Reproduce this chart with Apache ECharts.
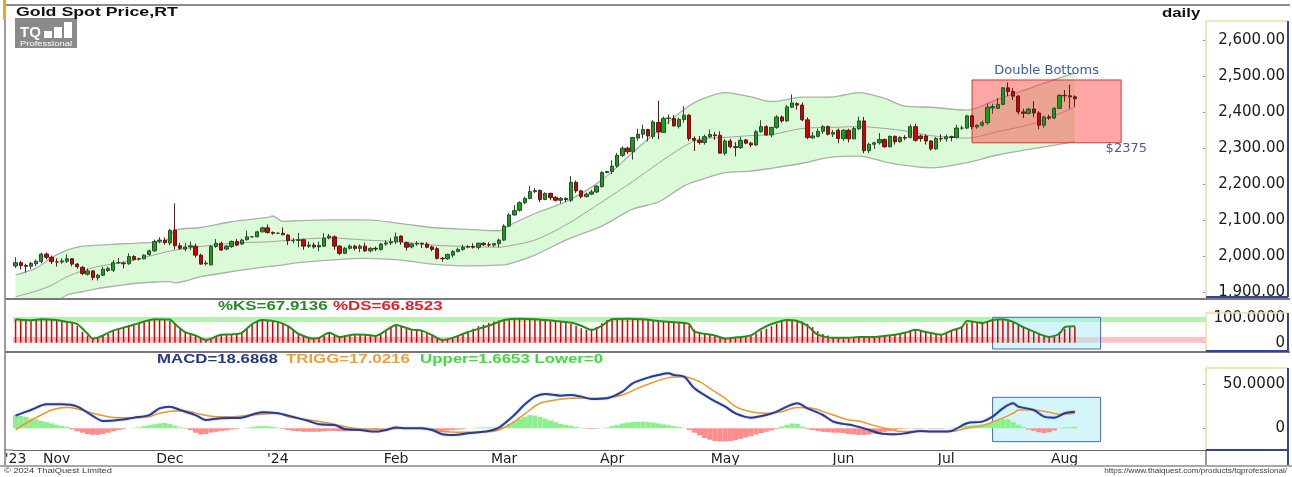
<!DOCTYPE html>
<html>
<head>
<meta charset="utf-8">
<title>Gold Spot Price,RT</title>
<script src="https://cdn.jsdelivr.net/npm/echarts@6.0.0/dist/echarts.min.js"></script>
<style>
  html, body { margin: 0; padding: 0; background: #fff; }
  #chart { width: 1292px; height: 477px; }
</style>
</head>
<body>
<div id="chart"></div>
<script>
// ---- data ----
var monthNames = ['Jan', 'Feb', 'Mar', 'Apr', 'May', 'Jun', 'Jul', 'Aug', 'Sep', 'Oct', 'Nov', 'Dec'];
var firstDay = '2023-10-20';
var slotCount = 232;            // trading-day slots across the panel (incl. empty space on the right)
var lastCandle = 206;
var priceTicks = [1900, 2000, 2100, 2200, 2300, 2400, 2500, 2600];
var stochTicks = [0, 100];
var macdTicks = [0, 50];
var lastPrice = 2437.64;
var lastKS = 67.9136, lastDS = 66.8523;
var lastMACD = 18.6868, lastTRIGG = 17.0216, histUpper = 1.6653, histLower = 0;
var patternBox = [186, 2490, 215, 2315];   // from day, top price, to day, bottom price
var patternTitle = 'Double Bottoms';
var patternNote = {at: 216, price: 2300, text: '$2375'};

// [open, close, low, high]
var candles = [
[1972,1981,1966,1996],[1981,1973,1962,1986],[1973,1971,1953,1978],[1971,1979,1963,1983],[1978,1985,1971,1990],
[1984,2005,1979,2009],[2005,1996,1990,2009],[1996,1984,1977,2001],[1983,1983,1970,1993],[1983,1986,1978,1993],
[1985,1992,1980,2004],[1992,1977,1971,1994],[1977,1970,1964,1980],[1968,1951,1946,1972],[1949,1958,1945,1965],
[1958,1940,1932,1960],[1939,1946,1931,1950],[1946,1963,1944,1970],[1959,1965,1955,1970],[1960,1981,1955,1988],
[1981,1981,1977,1994],[1980,1978,1965,1984],[1978,1998,1975,2007],[1998,1990,1987,2002],[1991,1992,1987,1995],
[1992,2002,1990,2004],[2004,2014,2000,2017],[2014,2040,2011,2045],[2041,2044,2035,2052],[2044,2037,2031,2051],
[2036,2071,2030,2075],[2072,2028,2018,2146],[2028,2021,2017,2036],[2019,2025,2013,2036],[2025,2028,2016,2040],
[2027,2002,1995,2034],[2002,1977,1975,2006],[1978,1980,1973,1987],[1975,2026,1973,2030],[2026,2035,2022,2047],
[2035,2016,2014,2040],[2019,2027,2016,2030],[2026,2040,2022,2043],[2040,2030,2027,2047],[2033,2044,2030,2048],
[2045,2053,2043,2070],[2053,2053,2051,2055],[2053,2067,2052,2070],[2067,2078,2065,2081],[2078,2065,2062,2088],
[2065,2063,2059,2068],[2063,2063,2061,2065],[2063,2059,2057,2079],[2058,2042,2030,2060],[2042,2043,2035,2050],
[2043,2045,2024,2064],[2045,2027,2017,2048],[2027,2030,2022,2040],[2030,2025,2020,2037],[2025,2029,2013,2040],
[2027,2049,2025,2063],[2050,2055,2046,2061],[2053,2027,2017,2057],[2027,2007,2002,2030],[2007,2021,2005,2025],
[2021,2027,2018,2032],[2027,2021,2015,2031],[2021,2027,2010,2032],[2027,2014,2011,2037],[2014,2021,2010,2024],
[2021,2019,2013,2026],[2018,2033,2015,2036],[2033,2036,2028,2043],[2036,2039,2030,2050],[2039,2053,2033,2065],
[2055,2039,2031,2057],[2037,2024,2015,2040],[2025,2033,2021,2036],[2033,2035,2028,2041],[2035,2033,2022,2037],
[2033,2024,2021,2038],[2025,2018,2013,2029],[2020,1993,1990,2025],[1993,1992,1984,1997],[1992,2004,1989,2006],
[2002,2012,1995,2016],[2012,2018,2010,2023],[2018,2024,2014,2031],[2024,2026,2021,2030],[2026,2024,2020,2035],
[2024,2035,2018,2037],[2035,2031,2028,2038],[2031,2030,2025,2038],[2030,2034,2025,2036],[2034,2044,2024,2048],
[2044,2083,2041,2088],[2083,2114,2080,2119],[2114,2126,2112,2141],[2127,2148,2123,2152],[2148,2160,2144,2165],
[2160,2179,2158,2195],[2179,2182,2175,2189],[2182,2157,2150,2185],[2157,2174,2155,2177],[2174,2162,2155,2176],
[2163,2155,2151,2167],[2155,2160,2146,2164],[2160,2157,2150,2163],[2155,2205,2150,2222],[2205,2181,2175,2210],
[2181,2165,2160,2184],[2165,2172,2163,2176],[2172,2178,2169,2184],[2178,2194,2175,2197],[2193,2232,2190,2236],
[2232,2235,2230,2237],[2235,2250,2228,2266],[2250,2280,2245,2287],[2280,2300,2275,2305],[2300,2290,2284,2304],
[2290,2330,2268,2331],[2328,2339,2320,2354],[2339,2352,2327,2365],[2352,2334,2319,2354],[2333,2373,2326,2378],
[2372,2345,2325,2432],[2344,2383,2342,2388],[2383,2384,2367,2394],[2383,2362,2360,2392],[2361,2380,2355,2385],
[2380,2392,2371,2417],[2392,2327,2320,2395],[2327,2322,2292,2333],[2322,2316,2310,2334],[2316,2332,2310,2338],
[2332,2338,2328,2352],[2337,2335,2323,2345],[2336,2286,2285,2347],[2286,2320,2280,2325],[2320,2304,2300,2326],
[2304,2302,2277,2317],[2302,2322,2298,2331],[2323,2314,2311,2326],[2314,2309,2303,2318],[2309,2346,2306,2351],
[2346,2360,2343,2378],[2360,2337,2334,2364],[2337,2358,2330,2359],[2358,2387,2354,2392],[2387,2376,2371,2391],
[2376,2415,2373,2420],[2414,2426,2412,2450],[2424,2420,2407,2428],[2420,2379,2375,2427],[2379,2330,2325,2386],
[2329,2334,2326,2345],[2333,2347,2330,2355],[2347,2360,2340,2364],[2360,2339,2335,2363],[2339,2344,2331,2351],
[2350,2327,2314,2355],[2327,2350,2320,2353],[2350,2326,2316,2354],[2326,2355,2325,2359],[2354,2376,2350,2388],
[2376,2293,2286,2387],[2293,2311,2287,2315],[2311,2315,2298,2318],[2315,2324,2310,2342],[2324,2304,2301,2327],
[2304,2333,2302,2335],[2333,2318,2310,2335],[2318,2330,2315,2333],[2330,2328,2322,2336],[2330,2360,2327,2366],
[2360,2322,2318,2368],[2334,2327,2318,2338],[2334,2320,2310,2338],[2320,2298,2293,2322],[2298,2327,2295,2331],
[2327,2326,2318,2339],[2326,2332,2318,2338],[2332,2330,2319,2335],[2330,2356,2327,2365],[2356,2356,2351,2363],
[2356,2390,2353,2393],[2390,2360,2353,2393],[2359,2364,2354,2366],[2364,2371,2360,2377],[2371,2414,2365,2425],
[2412,2416,2396,2424],[2411,2422,2409,2440],[2422,2468,2420,2470],[2468,2458,2445,2483],[2458,2445,2434,2468],
[2445,2401,2394,2448],[2401,2397,2384,2410],[2397,2409,2394,2412],[2409,2398,2386,2431],[2398,2364,2353,2403],
[2364,2387,2357,2390],[2387,2384,2379,2393],[2384,2411,2381,2415],[2411,2447,2409,2451],[2447,2446,2430,2462],
[2446,2443,2410,2477],[2443,2438,2415,2447]
];

// band lines, read at these day positions
var bandIdx   = [0, 4, 7, 10, 13, 16, 20, 23, 26, 29, 30, 31, 36, 42, 49, 50, 52, 55, 61, 68, 75, 81, 88, 94, 96, 101, 107, 114, 120, 125, 130, 133, 138, 143, 147, 153, 159, 164, 169, 173, 178, 185, 191, 198, 206];
var bandUpper = [1947, 1966, 1995, 2016, 2027, 2030, 2033, 2035, 2037, 2039, 2053, 2072, 2079, 2095, 2107, 2111, 2096, 2098, 2100, 2100, 2090, 2079, 2074, 2070, 2085, 2118, 2151, 2211, 2288, 2350, 2408, 2434, 2455, 2443, 2430, 2442, 2443, 2455, 2439, 2417, 2414, 2406, 2436, 2471, 2510];
var bandMid   = [1886, 1902, 1918, 1942, 1958, 1970, 1980, 1988, 1999, 2010, 2013, 2016, 2026, 2035, 2039, 2040, 2042, 2046, 2050, 2044, 2039, 2030, 2026, 2024, 2028, 2044, 2086, 2150, 2207, 2258, 2305, 2325, 2330, 2335, 2338, 2355, 2358, 2360, 2355, 2348, 2335, 2328, 2346, 2369, 2414];
var bandLower = [1830, 1845, 1862, 1891, 1900, 1909, 1917, 1923, 1926, 1928, 1928, 1925, 1942, 1956, 1970, 1971, 1975, 1981, 1988, 1993, 1988, 1977, 1972, 1974, 1978, 2002, 2044, 2083, 2130, 2150, 2195, 2211, 2232, 2236, 2244, 2258, 2276, 2278, 2262, 2252, 2245, 2260, 2281, 2299, 2318];

// %DS bars, one per day
var stochD = [
97, 96, 95, 93, 94, 96, 97, 96, 94, 90,
86, 80, 70, 45, 30, 18, 20, 28, 38, 50,
58, 66, 73, 78, 81, 86, 92, 97, 98, 97,
90, 78, 62, 45, 35, 30, 22, 12, 18, 26,
32, 34, 34, 38, 45, 60, 76, 88, 94, 93,
88, 85, 80, 68, 55, 40, 30, 20, 17, 20,
32, 40, 32, 25, 26, 32, 35, 34, 33, 30,
28, 40, 55, 68, 73, 68, 60, 54, 52, 51,
45, 32, 18, 11, 14, 20, 30, 40, 48, 58,
68, 74, 82, 88, 92, 94, 97, 99, 99, 99,
98, 97, 95, 93, 91, 89, 86, 84, 78, 70,
60, 53, 56, 65, 80, 94, 97, 99, 99, 99,
98, 98, 97, 96, 94, 91, 89, 87, 85, 83,
79, 72, 55, 45, 38, 33, 30, 22, 17, 19,
22, 24, 28, 30, 38, 50, 58, 68, 78, 86,
94, 95, 92, 88, 78, 64, 48, 36, 30, 24,
20, 18, 18, 19, 21, 22, 24, 24, 26, 28,
31, 34, 38, 42, 48, 52, 48, 44, 38, 34,
36, 45, 52, 60, 68, 80, 88, 84, 82, 86,
92, 95, 97, 95, 88, 76, 64, 55, 46, 38,
28, 24, 32, 45, 58, 64, 67
];
// %KS line, read at these day positions
var stochKIdx = [0, 3, 5, 8, 10, 12, 14, 15, 16, 19, 22, 24, 27, 30, 31, 33, 35, 37, 40, 42, 44, 46, 48, 51, 53, 55, 58, 59, 61, 63, 66, 68, 70, 72, 74, 75, 77, 79, 81, 83, 85, 88, 92, 95, 98, 101, 105, 108, 110, 112, 114, 116, 119, 122, 125, 129, 131, 132, 136, 138, 141, 143, 145, 147, 150, 152, 154, 156, 159, 162, 164, 167, 169, 171, 173, 175, 177, 180, 182, 184, 185, 187, 188, 190, 192, 194, 196, 198, 201, 203, 204, 206];
var stochK    = [97, 93, 97, 94, 86, 77, 37, 17, 21, 50, 68, 81, 97, 96, 77, 44, 30, 11, 33, 34, 41, 77, 94, 86, 68, 37, 17, 20, 41, 24, 34, 33, 28, 50, 73, 68, 54, 50, 31, 11, 20, 44, 70, 94, 99, 97, 90, 83, 70, 53, 70, 97, 99, 97, 90, 83, 77, 46, 30, 17, 24, 30, 57, 77, 94, 90, 70, 33, 20, 20, 24, 24, 28, 33, 41, 53, 44, 33, 50, 64, 90, 84, 81, 94, 97, 86, 64, 46, 24, 37, 64, 68];

// MACD / TRIGG lines, read at these day positions
var macdIdx  = [0, 3, 6, 9, 12, 15, 17, 20, 23, 26, 28, 30, 32, 35, 37, 40, 44, 48, 51, 53, 57, 59, 62, 64, 67, 70, 72, 74, 76, 79, 81, 83, 85, 88, 92, 94, 97, 99, 101, 103, 106, 108, 110, 112, 115, 118, 120, 123, 125, 127, 128, 130, 132, 135, 138, 140, 143, 146, 148, 150, 152, 154, 157, 159, 161, 163, 166, 168, 171, 173, 176, 178, 180, 182, 185, 188, 190, 192, 194, 195, 198, 200, 202, 204, 206];
var macdVals = [14.4, 20.8, 27.3, 27.3, 24.6, 14, 8.3, 9.5, 12.1, 15, 22.7, 24.6, 20.8, 15, 9.5, 11.3, 12.1, 18.2, 17, 14.4, 8.3, 4.5, 3.8, -0.8, -1.9, -3.8, -1.9, 0.8, 0, 0, -1.9, -6.8, -7.6, -5.7, -3, 0.8, 15.1, 27, 36, 39, 37.1, 37.9, 36, 33.3, 34.1, 41.6, 51.1, 57.6, 60.6, 62.5, 60.6, 58.7, 45.4, 34.1, 24.6, 17, 12.1, 15.1, 18.9, 24.6, 28.4, 22.7, 15.1, 7.6, 5, 3, -1.9, -5.7, -6.8, -5.7, -3, -3.8, -3.8, -3, 5.7, 7.6, 13.2, 22.7, 28.4, 24.6, 20.8, 13.2, 12.1, 17, 18.7];
var trigIdx  = [0, 2, 5, 7, 10, 12, 15, 18, 20, 23, 26, 28, 31, 33, 36, 39, 42, 46, 51, 53, 57, 61, 64, 68, 72, 75, 79, 83, 87, 92, 94, 97, 100, 102, 105, 108, 111, 115, 118, 121, 124, 127, 130, 133, 135, 138, 140, 143, 146, 149, 152, 155, 158, 160, 162, 164, 167, 170, 172, 175, 179, 182, 185, 188, 191, 194, 195, 198, 201, 203, 206];
var trigVals = [-1.9, 5.7, 15.1, 20.8, 23.5, 22, 17, 13.2, 12.1, 12.1, 13.2, 17, 19.7, 19.7, 15.9, 13.2, 13.2, 15.1, 17, 13.2, 9.5, 5.7, 1.9, -1.1, -1.1, 0, 0, -3.8, -4.6, -3.8, -1.9, 7.6, 20.8, 28.4, 32.2, 34.1, 34.1, 34.8, 37.9, 45.4, 52.3, 57.6, 58.7, 53, 45.4, 34.1, 24.6, 18.9, 17, 18.9, 23.5, 22.7, 17, 13.2, 9.5, 8.3, 3, -1.1, -3.8, -3.8, -3.8, -3.8, 0, 3, 9.5, 17, 20.8, 20.8, 18.2, 15.9, 17];

// histogram, one per day
var macdHist = [
15, 14, 13, 11, 10, 8.5, 7, 5.5, 4, 2.5,
1.5, -1.5, -3.5, -5, -6.5, -7.5, -7.5, -6.5, -5, -3.5,
-2, -1, 0, 0.5, 1, 2.5, 3.5, 4.5, 5.5, 6,
5, 3, 1, -0.5, -2, -5, -7, -6.5, -5, -4,
-3, -2.5, -1.5, -1, 0, 0.8, 1.5, 2.2, 2.5, 2.3,
1.5, 0.8, -1, -2, -3, -3.5, -4, -4, -4, -4,
-3.5, -3, -3, -3.5, -3.5, -3, -3, -2.5, -2, -1.5,
-1, -0.5, 0, 0.5, 1, 0.5, 0.3, 0, -0.5, -1,
-2, -3, -3, -3, -2.5, -2, -1.5, -1, 0, 0.5,
0.8, 1, 1, 1, 1, 2, 5, 8, 11, 13,
15, 14.5, 13, 11, 9, 7, 5, 4, 3, 1.5,
0.5, -0.5, -1, -0.5, 0, 1, 2.5, 4, 5.5, 6.5,
7, 7.5, 7.5, 7, 6.5, 5.5, 4.5, 3.5, 2.5, 1.5,
0.5, -2, -5, -8, -11, -13, -14.5, -15, -15, -14.5,
-13.5, -12, -10.5, -9, -7, -5.5, -4, -2.5, -1, 2,
4, 5.5, 5, 2, -1, -2, -3, -4, -4.5, -5,
-5, -5.5, -6.5, -7, -7.5, -7.5, -7, -6, -5, -4,
-3, -2, -1, -0.5, 0.5, -0.5, -0.5, 0, -0.5, -0.5,
-0.5, 0.3, 0.5, 1, 2, 3, 3.5, 4, 4.5, 5.5,
8, 9.5, 10.5, 10, 7, 4, 1.5, -1.5, -3, -4.5,
-5.5, -4.5, -2.5, 0.5, 1, 1.2, 1.7
];

// ---- helpers ----
var categories = [];
(function () {
    var d = new Date(firstDay + 'T00:00:00Z');
    while (categories.length < slotCount) {
        var wd = d.getUTCDay();
        if (wd !== 0 && wd !== 6) categories.push(d.toISOString().slice(0, 10));
        d.setUTCDate(d.getUTCDate() + 1);
    }
})();
var monthStart = categories.map(function (c, i) {
    return i === 0 || c.slice(5, 7) !== categories[i - 1].slice(5, 7);
});
function showMonth(i) { return monthStart[i] && i <= lastCandle; }
function monthLabel(value, i) {
    if (i === 0) return "'" + value.slice(2, 4);
    var m = +value.slice(5, 7);
    return m === 1 ? "'" + value.slice(2, 4) : monthNames[m - 1];
}
function pairs(idx, vals) { return idx.map(function (i, k) { return [i, vals[k]]; }); }
function money(v) { return v.toLocaleString('en-US', {minimumFractionDigits: 2, maximumFractionDigits: 2}); }

var axisFont = '"DejaVu Sans", sans-serif';
function sideAxis(grid, min, max, ticks, fmt) {
    return {
        type: 'value', gridIndex: grid, position: 'right', min: min, max: max,
        splitLine: {show: false}, axisLine: {show: false},
        axisTick: {show: true, inside: true, length: 3, customValues: ticks, lineStyle: {color: '#999'}},
        axisLabel: {customValues: ticks, formatter: fmt, align: 'right', margin: 79,
            color: '#1a1a1a', fontFamily: axisFont, fontSize: 15}
    };
}

function hline(x1, x2, y, color, w) {
    return {type: 'line', silent: true, z: 30, shape: {x1: x1, y1: y, x2: x2, y2: y}, style: {stroke: color, lineWidth: w}};
}
function vline(x, y1, y2, color, w) {
    return {type: 'line', silent: true, z: 30, shape: {x1: x, y1: y1, x2: x, y2: y2}, style: {stroke: color, lineWidth: w}};
}
function axisBox(x1, y1, x2, y2) {
    return [vline(x1, y1, y2, '#eadba6', 1.5), hline(x1, x2, y1, '#eadba6', 1.5),
            vline(x2, y1, y2, '#34449a', 2), hline(x1, x2, y2, '#34449a', 2)];
}
function txt(s, x, y, font, color, sx, align) {
    return {type: 'text', x: x, y: y, scaleX: sx || 1, silent: true, z: 40,
        style: {text: s, font: font, fill: color, textAlign: align || 'left', align: align || 'left',
            textVerticalAlign: 'middle', verticalAlign: 'middle'}};
}
function rect(x, y, w, h, fill) {
    return {type: 'rect', silent: true, z: 35, shape: {x: x, y: y, width: w, height: h}, style: {fill: fill}};
}

// ---- chart ----
var chart = echarts.init(document.getElementById('chart'));

var boldFont = 'bold 12px "Liberation Sans", Arial, sans-serif';
var graphics = [
    hline(5, 1290, 5, '#8c8c8c', 2),
    vline(5, 5, 465, '#3a3a3a', 1),
    rect(3, 0, 3, 20, '#f5a31a'),
    hline(5, 1290, 299, '#7a7a7a', 2),
    hline(5, 1290, 352, '#7a7a7a', 2),
    hline(5, 13, 450, '#666', 1),
    hline(0, 1292, 466, '#a8a8a8', 2),
    vline(1206, 450, 465, '#333', 1),
    vline(1288, 450, 465, '#34449a', 2),
    txt('Gold Spot Price,RT', 16, 13, boldFont, '#111', 1.48),
    txt('daily', 1162, 13.5, boldFont, '#111', 1.4),
    rect(15, 18, 62, 30, '#8a8a8a'),
    txt('TQ', 20, 32.5, 'bold 15px "Liberation Sans", Arial, sans-serif', '#fff', 1),
    rect(44, 31, 8, 7, '#fff'), rect(54, 27, 8, 11, '#fff'), rect(64, 22, 8, 16, '#fff'),
    txt('Professional', 20, 44, '7px "Liberation Sans", Arial, sans-serif', '#fff', 1.35),
    txt('%KS=' + lastKS.toFixed(4), 218, 307, boldFont, '#2a8a2a', 1.41),
    txt('%DS=' + lastDS.toFixed(4), 333, 307, boldFont, '#e0202a', 1.41),
    txt('MACD=' + lastMACD.toFixed(4), 157, 360, boldFont, '#26388a', 1.4),
    txt('TRIGG=' + lastTRIGG.toFixed(4), 286, 360, boldFont, '#f0a030', 1.4),
    txt('Upper=' + histUpper.toFixed(4) + ' Lower=' + histLower, 420, 360, boldFont, '#3ddc3d', 1.4),
    txt('\u00a9 2024 ThaiQuest Limited', 4, 471, '8px "Liberation Sans", Arial, sans-serif', '#3a3a3a', 1.16),
    txt('https://www.thaiquest.com/products/tqprofessional/', 1287, 471, '7px "Liberation Sans", Arial, sans-serif', '#3a3a3a', 1.16, 'right')
].concat(axisBox(1206, 21, 1288, 297), axisBox(1206, 313, 1288, 351), axisBox(1206, 368, 1288, 450));

var bandLine = {color: '#a9b1a9', width: 1.3};

// pattern rectangle with its two notes, placed through the axes
function renderPattern(params, api) {
    var p1 = api.coord([api.value(0), api.value(1)]);
    var p2 = api.coord([api.value(2), api.value(3)]);
    var note = api.coord([patternNote.at, patternNote.price]);
    var noteFont = '13px "DejaVu Sans", sans-serif';
    return {type: 'group', children: [
        {type: 'rect', shape: {x: p1[0], y: p1[1], width: p2[0] - p1[0], height: p2[1] - p1[1]},
            style: {fill: 'rgba(255,60,60,0.45)', stroke: '#e83030', lineWidth: 1}},
        {type: 'text', x: (p1[0] + p2[0]) / 2, y: p1[1] - 3,
            style: {text: patternTitle, font: noteFont, fill: '#3b5ba9',
                textAlign: 'center', align: 'center', textVerticalAlign: 'bottom', verticalAlign: 'bottom'}},
        {type: 'text', x: note[0], y: note[1],
            style: {text: patternNote.text, font: noteFont, fill: '#4a5a9a',
                textAlign: 'center', align: 'center', textVerticalAlign: 'middle', verticalAlign: 'middle'}}
    ]};
}

var option = {
    animation: false,
    backgroundColor: '#fff',
    grid: [
        {left: 13, right: 86, top: 21, height: 277},
        {left: 13, right: 86, top: 300, height: 51},
        {left: 13, right: 86, top: 353, height: 97}
    ],
    xAxis: [
        {type: 'category', gridIndex: 0, data: categories, show: false, axisLine: {onZero: false}},
        {type: 'category', gridIndex: 1, data: categories, show: false, axisLine: {onZero: false}},
        {type: 'category', gridIndex: 2, data: categories,
            axisLine: {onZero: false, lineStyle: {color: '#666', width: 1}},
            axisTick: {interval: showMonth, alignWithLabel: true, length: 4, lineStyle: {color: '#666'}},
            axisLabel: {interval: showMonth, formatter: monthLabel, color: '#222', fontFamily: axisFont, fontSize: 14, margin: 2},
            splitLine: {show: false}}
    ],
    yAxis: [
        sideAxis(0, 1882.6, 2654.3, priceTicks, money),
        sideAxis(1, -34.3, 176.4, stochTicks, function (v) { return v === 100 ? '100.0000' : '0'; }),
        sideAxis(2, -24.7, 85.6, macdTicks, function (v) { return v === 50 ? '50.0000' : '0'; })
    ],
    series: [
        {name: 'bandLower', type: 'line', xAxisIndex: 0, yAxisIndex: 0, stack: 'band', symbol: 'none', smooth: 0.3,
            data: pairs(bandIdx, bandLower), lineStyle: bandLine, z: 1, silent: true},
        {name: 'bandUpper', type: 'line', xAxisIndex: 0, yAxisIndex: 0, stack: 'band', symbol: 'none', smooth: 0.3,
            data: pairs(bandIdx, bandUpper.map(function (u, k) { return u - bandLower[k]; })),
            lineStyle: bandLine, areaStyle: {color: '#dbfad8', opacity: 1}, z: 1, silent: true},
        {name: 'bandMid', type: 'line', xAxisIndex: 0, yAxisIndex: 0, symbol: 'none', smooth: 0.3,
            data: pairs(bandIdx, bandMid), lineStyle: {color: '#a3a3a3', width: 1}, z: 2, silent: true},
        {name: 'pattern', type: 'custom', xAxisIndex: 0, yAxisIndex: 0, z: 3, silent: true,
            data: [patternBox], encode: {x: [0, 2], y: [1, 3]}, renderItem: renderPattern},
        {name: 'Gold', type: 'candlestick', xAxisIndex: 0, yAxisIndex: 0, data: candles, barWidth: 3.8, z: 5,
            itemStyle: {color: '#16a016', color0: '#d20000', borderColor: '#2f4a2f', borderColor0: '#5a1a1a', borderWidth: 1},
            markLine: {silent: true, symbol: ['none', 'none'], lineStyle: {opacity: 0},
                label: {show: true, position: 'end', distance: 2, formatter: money(lastPrice),
                    backgroundColor: '#3b62d6', color: '#fff', fontFamily: axisFont, fontSize: 15, padding: [0, 1], lineHeight: 12},
                data: [{yAxis: lastPrice}]}},

        {name: 'stochZones', type: 'line', xAxisIndex: 1, yAxisIndex: 1, data: [], z: 0, silent: true,
            markArea: {silent: true, data: [
                [{yAxis: 86, itemStyle: {color: '#b6f3ae'}}, {yAxis: 106}],
                [{yAxis: 0, itemStyle: {color: '#ffc0c0'}}, {yAxis: 24}]]}},
        {name: 'stochBox', type: 'line', xAxisIndex: 1, yAxisIndex: 1, data: [], z: 1, silent: true,
            markArea: {silent: true, itemStyle: {color: 'rgba(170,238,248,0.5)', borderColor: '#4a6aa8', borderWidth: 1},
                data: [[{xAxis: categories[190], yAxis: 105}, {xAxis: categories[211], yAxis: -26}]]}},
        {name: '%DS', type: 'bar', xAxisIndex: 1, yAxisIndex: 1, data: stochD, barWidth: 1.5,
            itemStyle: {color: '#e00000'}, z: 2, silent: true},
        {name: '%KS', type: 'line', xAxisIndex: 1, yAxisIndex: 1, data: pairs(stochKIdx, stochK), symbol: 'none', smooth: 0.25,
            lineStyle: {color: '#1f8f1f', width: 2}, z: 4, silent: true},

        {name: 'macdBox', type: 'line', xAxisIndex: 2, yAxisIndex: 2, data: [], z: 1, silent: true,
            markArea: {silent: true, itemStyle: {color: 'rgba(170,238,248,0.5)', borderColor: '#4a6aa8', borderWidth: 1},
                data: [[{xAxis: categories[190], yAxis: 35.2}, {xAxis: categories[211], yAxis: -15.2}]]}},
        {name: 'hist', type: 'bar', xAxisIndex: 2, yAxisIndex: 2, data: macdHist, barCategoryGap: '0%', z: 2, silent: true,
            itemStyle: {color: function (p) { return p.value >= 0 ? '#8eef8e' : '#ff8c8c'; }}},
        {name: 'TRIGG', type: 'line', xAxisIndex: 2, yAxisIndex: 2, data: pairs(trigIdx, trigVals), symbol: 'none', smooth: 0.3,
            lineStyle: {color: '#f0962a', width: 1.5}, z: 3, silent: true},
        {name: 'MACD', type: 'line', xAxisIndex: 2, yAxisIndex: 2, data: pairs(macdIdx, macdVals), symbol: 'none', smooth: 0.3,
            lineStyle: {color: '#2a3c8e', width: 2, shadowColor: 'rgba(120,140,220,0.6)', shadowBlur: 2}, z: 4, silent: true}
    ],
    graphic: {elements: graphics}
};

chart.setOption(option);
</script>
</body>
</html>
